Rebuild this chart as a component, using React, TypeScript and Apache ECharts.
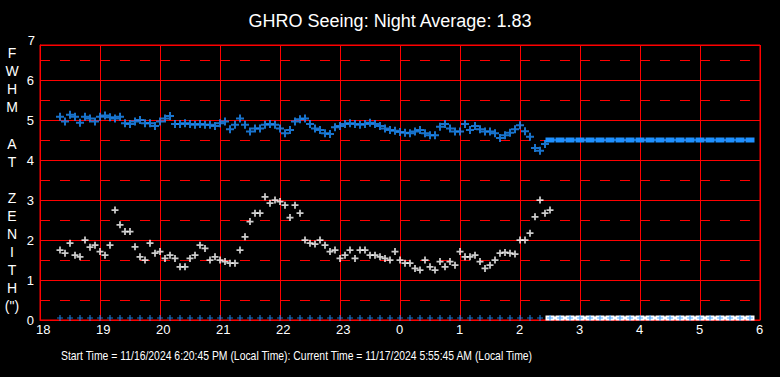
import React, { useEffect, useRef } from 'react';
import * as echarts from 'echarts';

const titleText = 'GHRO Seeing: Night Average: 1.83';
const footerText =
  'Start Time = 11/16/2024 6:20:45 PM (Local Time): Current Time = 11/17/2024 5:55:45 AM (Local Time)';
const yAxisTitleLines = ['F', 'W', 'H', 'M', '', 'A', 'T', '', 'Z', 'E', 'N', 'I', 'T', 'H', '(")'];

const xHourLabels = ['18', '19', '20', '21', '22', '23', '0', '1', '2', '3', '4', '5', '6'];
const yTickLabels = ['0', '1', '2', '3', '4', '5', '6', '7'];
const halfLines = [0.5, 1.5, 2.5, 3.5, 4.5, 5.5, 6.5];

// x values are hours after 18:00 local time
const sampleStart = 20 / 60; // 18:20
const sampleStep = 5 / 60; // 5 minutes

// blue: FWHM series
const fwhmBlue = [
  5.08, 4.96, 5.13, 5.08, 4.93, 5.08, 5.04, 4.96, 5.08, 5.11,
  5.07, 5.04, 5.08, 4.92, 4.9, 4.96, 5.0, 4.92, 4.92, 4.85,
  4.96, 5.04, 5.1, 4.9, 4.9, 4.92, 4.9, 4.88, 4.9, 4.88,
  4.88, 4.85, 4.92, 4.96, 4.77, 4.88, 5.04, 4.88, 4.71, 4.79,
  4.79, 4.88, 4.9, 4.88, 4.79, 4.67,
  4.75, 4.96, 5.02, 5.04, 4.9, 4.79, 4.75, 4.67, 4.65, 4.82,
  4.85, 4.9, 4.92, 4.9, 4.88, 4.9, 4.93, 4.9, 4.85, 4.79,
  4.75, 4.73, 4.7, 4.68, 4.67, 4.71, 4.75, 4.67, 4.62, 4.62,
  4.83, 4.9, 4.79, 4.71, 4.71, 4.9, 4.75, 4.85, 4.77, 4.71,
  4.71, 4.67, 4.55, 4.62, 4.68, 4.77, 4.87, 4.72, 4.58, 4.3,
  4.23, 4.4,
];

// white: seeing series
const seeingWhite = [
  1.75, 1.67, 1.92, 1.62, 1.58, 2.0, 1.82, 1.87, 1.71, 1.62,
  1.87, 2.75, 2.38, 2.21, 2.21, 1.83, 1.58, 1.5, 1.92, 1.67,
  1.71, 1.54, 1.62, 1.54, 1.33, 1.33, 1.54, 1.62, 1.87, 1.79,
  1.5, 1.58, 1.5, 1.46, 1.42, 1.42, 1.75, 2.08, 2.46, 2.67,
  2.67, 3.08, 2.92, 3.0, 2.96, 2.87, 2.56,
  2.87, 2.67, 2.0, 1.92, 1.9, 2.0, 1.87, 1.71, 1.75, 1.54,
  1.62, 1.75, 1.54, 1.75, 1.75, 1.62, 1.62, 1.58, 1.54, 1.5,
  1.71, 1.5, 1.42, 1.42, 1.29, 1.25, 1.5, 1.33, 1.25, 1.46,
  1.33, 1.46, 1.37, 1.71, 1.58, 1.58, 1.62, 1.46, 1.29, 1.37,
  1.5, 1.67, 1.69, 1.67, 1.65, 2.0, 2.0, 2.17, 2.58, 3.0,
  2.67, 2.75,
];

// after 02:30 the blue value is held flat
const heldStart = 8.5; // 02:30
const heldStep = 10 / 60;
const heldFwhm = [
  4.5, 4.5, 4.5, 4.5, 4.5, 4.5, 4.5, 4.5, 4.5, 4.5,
  4.5, 4.5, 4.5, 4.5, 4.5, 4.5, 4.5, 4.5, 4.5, 4.5,
  4.5,
];

// status markers along the bottom
const flagStart = 20 / 60;
const flagStep = 10 / 60;
const blueFlags = [
  0.05, 0.05, 0.05, 0.05, 0.05, 0.05, 0.05, 0.05, 0.05, 0.05,
  0.05, 0.05, 0.05, 0.05, 0.05, 0.05, 0.05, 0.05, 0.05, 0.05,
  0.05, 0.05, 0.05, 0.05, 0.05, 0.05, 0.05, 0.05, 0.05, 0.05,
  0.05, 0.05, 0.05, 0.05, 0.05, 0.05, 0.05, 0.05, 0.05, 0.05,
  0.05, 0.05, 0.05, 0.05, 0.05, 0.05, 0.05, 0.05, 0.05, 0.05,
  0.05, 0.05, 0.05, 0.05, 0.05, 0.05, 0.05, 0.05, 0.05, 0.05,
  0.05, 0.05, 0.05, 0.05, 0.05, 0.05, 0.05, 0.05, 0.05, 0.05,
];
const whiteFlagStart = 8.5;
const whiteFlags = [
  0.05, 0.05, 0.05, 0.05, 0.05, 0.05, 0.05, 0.05, 0.05, 0.05,
  0.05, 0.05, 0.05, 0.05, 0.05, 0.05, 0.05, 0.05, 0.05, 0.05,
  0.05,
];

const FONT = 'Liberation Sans, Arial, sans-serif';
const RED = '#ff0000';
const BLUE = '#1e90ff';
const PLUS = 'path://M0,3H8V5H0ZM3,0H5V8H3Z';
const PLUS_SMALL = 'path://M0,2H5V3H0ZM2,0H3V5H2Z';

const toPairs = (vals: number[], start: number, step: number) =>
  vals.map((v, i) => [start + i * step, v]);

export default function App() {
  const ref = useRef<HTMLDivElement>(null);

  useEffect(() => {
    if (!ref.current) return;
    const chart = echarts.init(ref.current, null, { renderer: 'svg' });
    chart.setOption({
      animation: false,
      backgroundColor: '#000000',
      title: {
        text: titleText,
        left: 'center',
        top: 7,
        textStyle: { color: '#ffffff', fontSize: 18, fontWeight: 'normal', fontFamily: FONT },
      },
      grid: {
        left: 40,
        right: 20,
        top: 45,
        bottom: 57,
        show: true,
        borderColor: RED,
        borderWidth: 1,
        backgroundColor: 'transparent',
      },
      xAxis: {
        type: 'value',
        min: 0,
        max: 12,
        interval: 1,
        axisLine: { show: true, onZero: false, lineStyle: { color: RED, width: 1 } },
        axisTick: { show: false },
        splitLine: { show: true, lineStyle: { color: RED, width: 1 } },
        axisLabel: {
          margin: 3,
          align: 'center',
          formatter: (v: number) => `{t|${xHourLabels[Math.round(v)] ?? ''}}`,
          rich: {
            t: { width: 8, align: 'left', color: '#ffffff', fontSize: 13, fontFamily: FONT },
          },
        },
      },
      yAxis: {
        type: 'value',
        min: 0,
        max: 6.875,
        interval: 1,
        axisLine: { show: true, lineStyle: { color: RED, width: 1 } },
        axisTick: { show: false },
        splitLine: { show: true, lineStyle: { color: RED, width: 1 } },
        axisLabel: {
          margin: 6,
          color: '#ffffff',
          fontSize: 13,
          fontFamily: FONT,
          formatter: (v: number) => (Number.isInteger(v) ? yTickLabels[v] : ''),
        },
      },
      graphic: [
        {
          type: 'text',
          x: 35,
          y: 40,
          style: {
            text: yTickLabels[7],
            fill: '#ffffff',
            fontSize: 13,
            fontFamily: FONT,
            textAlign: 'right',
            textVerticalAlign: 'middle',
          },
        },
        {
          type: 'text',
          x: 12,
          y: 44,
          style: {
            text: yAxisTitleLines.join('\n'),
            fill: '#ffffff',
            fontSize: 14,
            lineHeight: 18.1,
            fontFamily: FONT,
            textAlign: 'center',
            textVerticalAlign: 'top',
          },
        },
        {
          type: 'text',
          x: 61,
          y: 355,
          scaleX: 0.8,
          style: {
            text: footerText,
            fill: '#ffffff',
            fontSize: 13,
            fontFamily: FONT,
            textAlign: 'left',
            textVerticalAlign: 'middle',
          },
        },
      ],
      series: [
        {
          name: 'guides',
          type: 'line',
          data: [],
          z: 1,
          markLine: {
            silent: true,
            z: 1,
            symbol: 'none',
            label: { show: false },
            lineStyle: { color: RED, width: 1, type: [10, 10] },
            data: halfLines.map((v) => ({ yAxis: v })),
          },
        },
        {
          name: 'white flags',
          type: 'line',
          data: toPairs(whiteFlags, whiteFlagStart, flagStep),
          symbol: 'rect',
          symbolSize: [9, 5],
          showSymbol: true,
          lineStyle: { color: '#ffffff', width: 3 },
          itemStyle: { color: '#ffffff' },
          z: 3,
        },
        {
          name: 'blue flags',
          type: 'scatter',
          data: toPairs(blueFlags, flagStart, flagStep),
          symbol: PLUS_SMALL,
          symbolSize: 6,
          itemStyle: { color: BLUE },
          z: 4,
        },
        {
          name: 'held FWHM',
          type: 'line',
          data: toPairs(heldFwhm, heldStart, heldStep),
          symbol: 'rect',
          symbolSize: [9, 5],
          showSymbol: true,
          lineStyle: { color: BLUE, width: 1.5 },
          itemStyle: { color: BLUE },
          z: 4,
        },
        {
          name: 'FWHM',
          type: 'scatter',
          data: toPairs(fwhmBlue, sampleStart, sampleStep),
          symbol: PLUS,
          symbolSize: 8,
          itemStyle: { color: BLUE },
          z: 5,
        },
        {
          name: 'Seeing',
          type: 'scatter',
          data: toPairs(seeingWhite, sampleStart, sampleStep),
          symbol: PLUS,
          symbolSize: 7,
          itemStyle: { color: '#ffffff' },
          z: 5,
        },
      ],
    });
    return () => chart.dispose();
  }, []);

  return (
    <div
      ref={ref}
      style={{ position: 'fixed', left: 0, top: 0, width: 780, height: 377, background: '#000' }}
    />
  );
}
